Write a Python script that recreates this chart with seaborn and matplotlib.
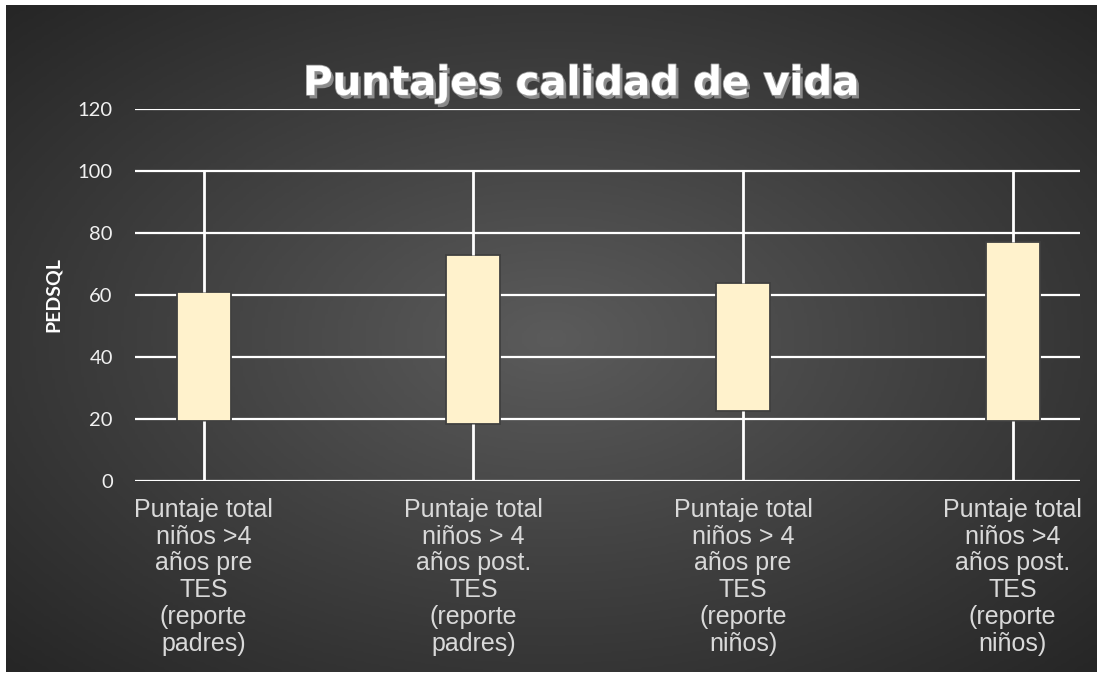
import numpy as np
import pandas as pd
import matplotlib
matplotlib.use("Agg")
import matplotlib.pyplot as plt
import matplotlib.patheffects as pe
from matplotlib.colors import LinearSegmentedColormap
import seaborn as sns

# values (Excel stock chart: low / open / close / high)
categories = [
    "Puntaje total\nniños >4\naños pre\nTES\n(reporte\npadres)",
    "Puntaje total\nniños > 4\naños post.\nTES\n(reporte\npadres)",
    "Puntaje total\nniños > 4\naños pre\nTES\n(reporte\nniños)",
    "Puntaje total\nniños >4\naños post.\nTES\n(reporte\nniños)",
]
low = [0, 0, 0, 0]
box_bottom = [19.5, 18.5, 22.5, 19.5]
box_top = [61, 73, 64, 77]
high = [100, 100, 100, 100]
yticks = [0, 20, 40, 60, 80, 100, 120]

# long table: with whis=(0, 100) the quartiles land on box_bottom / box_top
rows = []
for cat, lo, b, t, hi in zip(categories, low, box_bottom, box_top, high):
    for v in (lo, b, b, t, t, hi):
        rows.append({"cat": cat, "val": v})
df = pd.DataFrame(rows)

sns.set_style("white")
fig = plt.figure(figsize=(11.02, 6.77), dpi=100)
fig.patch.set_facecolor("white")

# dark radial background
bg = fig.add_axes([0.005, 0.008, 0.99, 0.984], zorder=-10)
xx, yy = np.meshgrid(np.linspace(-1, 1, 400), np.linspace(-1, 1, 250))
r = np.clip(np.sqrt(xx**2 + yy**2) / np.sqrt(2), 0, 1)
cmap = LinearSegmentedColormap.from_list("bgrad", ["#5b5b5b", "#404040", "#262626"])
bg.imshow(r, cmap=cmap, aspect="auto", extent=[0, 1, 0, 1], vmin=0, vmax=1)
bg.set_axis_off()

ax = fig.add_axes([0.1225, 0.2895, 0.8575, 0.5495])
ax.set_facecolor("none")

sns.boxplot(
    data=df, x="cat", y="val", ax=ax,
    whis=(0, 100), width=0.2, color="#fff2cc", saturation=1,
    linecolor="#404040", linewidth=1.3, showcaps=False,
    whiskerprops=dict(color="white", linewidth=2),
    medianprops=dict(linewidth=0),
    zorder=3,
)

ax.set_xlim(-0.255, 3.25)
ax.set_ylim(0, 120)
ax.set_yticks(yticks)
ax.yaxis.grid(True, color="white", linewidth=1.6)
ax.set_axisbelow(True)
for s in ax.spines.values():
    s.set_visible(False)
ax.tick_params(axis="both", length=0)
ax.tick_params(axis="y", pad=16, labelsize=14.5, labelcolor="#f0f0f0")
for lbl in ax.get_yticklabels():
    lbl.set_family("Lato")
ax.set_xticks(range(len(categories)))
ax.set_xticklabels(categories, fontsize=18, color="#d9d9d9",
                   family="Liberation Sans", linespacing=1.15)
ax.tick_params(axis="x", pad=12)
ax.set_xlabel("")
ax.set_ylabel("PEDSQL", fontsize=14, fontweight="bold", color="white",
              family="Lato", labelpad=11)

fig.text(0.527, 0.876, "Puntajes calidad de vida", ha="center", va="center",
         fontsize=29, fontweight="bold", color="white", family="DejaVu Sans",
         path_effects=[
             pe.SimplePatchShadow(offset=(2, -2.5), shadow_rgbFace="#8a8a8a", alpha=1),
             pe.Stroke(linewidth=1.2, foreground="#9a9a9a"),
             pe.Normal(),
         ])

fig.savefig("out.png", dpi=100, facecolor=fig.get_facecolor())
